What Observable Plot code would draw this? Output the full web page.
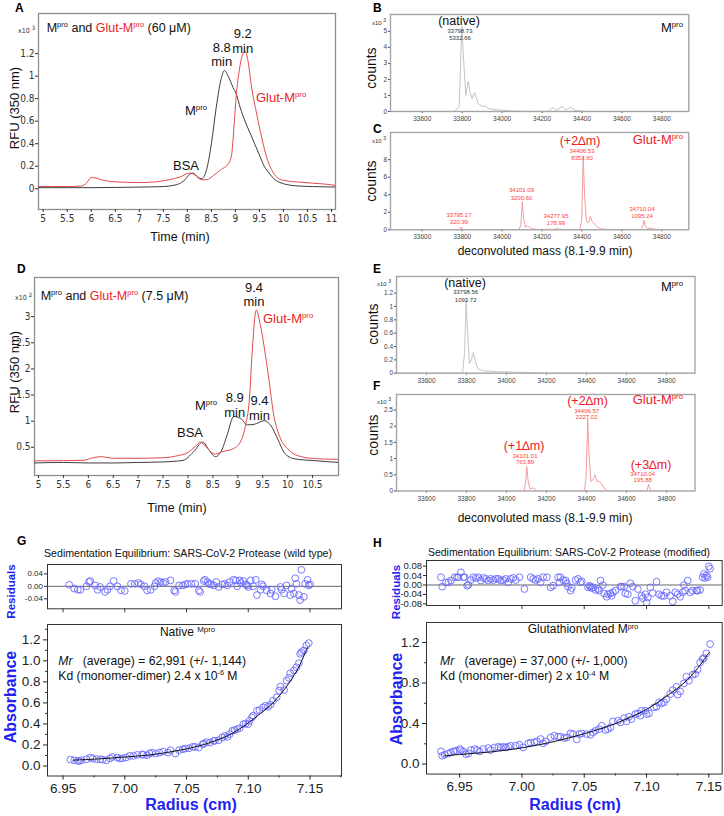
<!DOCTYPE html>
<html><head><meta charset="utf-8">
<script src="https://cdn.jsdelivr.net/npm/d3@7"></script>
<script src="https://cdn.jsdelivr.net/npm/@observablehq/plot@0.6"></script>
<style>
body{margin:0;background:#fff;}
#fig{position:relative;width:724px;height:816px;overflow:hidden;background:#fff;}
</style></head><body><div id="fig"></div>
<script>
// ---------- Panel A: SEC chromatogram, 60 µM ----------
const aRedT = [4.88,5.5,5.8,5.9,6.0,6.1,6.25,6.5,7.0,7.3,7.6,7.85,8.05,8.15,8.3,8.4,8.55,8.7,8.85,8.92,8.97,9.02,9.08,9.14,9.2,9.26,9.33,9.45,9.55,9.65,9.75,9.87,10.0,10.3,10.6,10.9,11.08];
const aRedV = [0.02,0.02,0.025,0.05,0.1,0.095,0.075,0.062,0.055,0.06,0.078,0.105,0.14,0.125,0.08,0.08,0.12,0.17,0.22,0.3,0.55,0.84,1.05,1.18,1.22,1.14,0.92,0.65,0.45,0.28,0.17,0.1,0.075,0.06,0.05,0.04,0.03];
const aBlkT = [4.88,5.5,6.0,6.5,7.0,7.5,7.8,7.95,8.05,8.12,8.22,8.3,8.4,8.5,8.6,8.7,8.77,8.85,8.95,9.02,9.1,9.2,9.3,9.4,9.5,9.6,9.7,9.8,10.0,10.3,10.6,11.08];
const aBlkV = [0.01,0.01,0.01,0.012,0.015,0.02,0.04,0.08,0.13,0.14,0.1,0.09,0.17,0.4,0.72,0.97,1.05,1.0,0.9,0.84,0.72,0.6,0.5,0.4,0.3,0.2,0.14,0.09,0.045,0.025,0.02,0.015];
const aXTicks = [5,5.5,6,6.5,7,7.5,8,8.5,9,9.5,10,10.5,11];
const aYTicks = [0,0.2,0.4,0.6,0.8,1,1.2];

// ---------- Panel D: SEC chromatogram, 7.5 µM ----------
const dRedT = [4.92,5.5,5.9,6.1,6.25,6.5,7.0,7.5,7.8,8.0,8.15,8.25,8.35,8.45,8.55,8.7,8.9,9.05,9.15,9.23,9.3,9.37,9.45,9.59,9.73,9.86,10.0,10.2,10.6,11.02];
const dRedV = [0.24,0.245,0.25,0.3,0.32,0.29,0.29,0.3,0.34,0.4,0.52,0.6,0.52,0.42,0.37,0.42,0.47,0.6,0.9,1.4,2.5,3.13,2.85,2.03,1.07,0.66,0.47,0.34,0.28,0.27];
const dBlkT = [4.92,5.5,6.0,6.5,7.0,7.5,7.9,8.1,8.3,8.42,8.55,8.68,8.79,8.92,9.06,9.19,9.33,9.53,9.66,9.8,9.93,10.13,10.53,11.02];
const dBlkV = [0.2,0.21,0.2,0.2,0.21,0.22,0.25,0.4,0.6,0.45,0.32,0.45,0.75,1.09,1.05,0.93,0.94,1.01,0.92,0.66,0.4,0.28,0.245,0.21];
const dXTicks = [5,5.5,6,6.5,7,7.5,8,8.5,9,9.5,10,10.5];
const dYTicks = [0.5,1,1.5,2,2.5,3];

// ---------- Deconvoluted mass spectra (counts x10^3) ----------
const bM = [33441,33760,33785,33798,33806,33818,33830,33840,33850,33862,33880,33900,33915,33930,33960,34000,34050,34150,34230,34255,34270,34300,34320,34342,34365,34420,34935];
const bC = [0,0,0.3,5.33,3.5,1.0,1.9,1.2,0.8,1.2,0.5,0.3,0.35,0.2,0.12,0.08,0.03,0,0.02,0.25,0.05,0.3,0.08,0.28,0.08,0,0];
const cM = [33441,33780,33788,33795,33802,33810,34085,34094,34101,34108,34118,34128,34138,34150,34180,34260,34272,34278,34285,34300,34390,34399,34406,34413,34422,34432,34442,34452,34465,34478,34495,34530,34695,34704,34710,34717,34728,34742,34760,34800,34935];
const cC = [0,0,0.1,0.32,0.1,0,0,0.6,3.2,1.2,0.3,0.45,0.25,0.1,0.05,0.05,0.08,0.18,0.06,0.04,0.05,1.2,8.35,4.0,1.0,0.8,1.5,0.9,0.6,0.3,0.1,0.04,0.04,0.3,1.1,0.5,0.15,0.2,0.08,0.02,0];
const eM = [33450,33780,33790,33798,33806,33814,33824,33834,33844,33856,33870,33890,33920,33950,33990,34050,34120,34200,34942];
const eC = [0,0,0.3,1.09,0.6,0.14,0.2,0.31,0.18,0.07,0.05,0.03,0.03,0.02,0.02,0.015,0.01,0,0];
const fM = [33450,34088,34095,34101,34108,34118,34130,34140,34155,34390,34398,34406,34413,34422,34432,34442,34452,34462,34472,34490,34510,34700,34706,34710,34716,34725,34942];
const fC = [0,0,0.25,0.76,0.3,0.05,0.1,0.07,0,0,0.5,2.23,1.0,0.3,0.35,0.5,0.3,0.3,0.25,0.06,0,0,0.1,0.2,0.08,0,0];
const massTicks = [33600,33800,34000,34200,34400,34600,34800];
const bYTicks = [0,1,2,3,4,5];
const cYTicks = [0,2,4,6,8];
const eYTicks = [0,0.2,0.4,0.6,0.8,1,1.2];
const fYTicks = [0,0.5,1,1.5,2,2.5];

// ---------- G: sedimentation equilibrium, native ----------
const gR = [6.956,6.959,6.962,6.963,6.965,6.969,6.972,6.974,6.977,6.980,6.982,6.985,6.988,6.990,6.994,6.996,6.998,7.001,7.004,7.007,7.010,7.014,7.015,7.018,7.020,7.022,7.025,7.028,7.031,7.035,7.037,7.041,7.044,7.047,7.049,7.052,7.055,7.057,7.060,7.063,7.064,7.066,7.069,7.072,7.073,7.076,7.079,7.081,7.083,7.085,7.087,7.089,7.091,7.093,7.096,7.098,7.100,7.101,7.103,7.104,7.107,7.109,7.112,7.114,7.116,7.118,7.120,7.123,7.125,7.126,7.129,7.131,7.133,7.134,7.137,7.139,7.141,7.142,7.143,7.145,7.147,7.149];
const gA = [0.060,0.054,0.048,0.048,0.054,0.064,0.080,0.070,0.064,0.064,0.060,0.054,0.073,0.086,0.080,0.070,0.073,0.080,0.096,0.096,0.105,0.111,0.105,0.102,0.118,0.127,0.118,0.127,0.137,0.127,0.150,0.118,0.150,0.159,0.166,0.169,0.182,0.182,0.175,0.207,0.213,0.226,0.223,0.239,0.239,0.245,0.271,0.287,0.277,0.303,0.334,0.341,0.350,0.360,0.398,0.404,0.398,0.430,0.462,0.478,0.525,0.532,0.557,0.573,0.564,0.583,0.621,0.653,0.717,0.755,0.723,0.812,0.838,0.882,0.908,0.939,0.978,1.067,1.083,1.099,1.146,1.169];
const gFitR = [6.958,6.98,7.0,7.02,7.04,7.06,7.08,7.09,7.1,7.11,7.12,7.13,7.14,7.148];
const gFitA = [0.055,0.068,0.085,0.105,0.14,0.19,0.27,0.33,0.41,0.5,0.6,0.74,0.92,1.13];
const grR = [6.955,6.959,6.962,6.964,6.969,6.971,6.972,6.976,6.978,6.980,6.984,6.986,6.988,6.991,6.994,6.997,7.000,7.005,7.008,7.011,7.013,7.016,7.018,7.021,7.024,7.025,7.027,7.029,7.031,7.033,7.037,7.040,7.041,7.044,7.047,7.049,7.051,7.054,7.057,7.060,7.061,7.064,7.065,7.067,7.068,7.070,7.072,7.074,7.076,7.079,7.081,7.083,7.085,7.088,7.090,7.091,7.093,7.094,7.096,7.098,7.099,7.100,7.102,7.104,7.106,7.107,7.110,7.111,7.112,7.115,7.118,7.119,7.122,7.126,7.127,7.129,7.131,7.134,7.135,7.137,7.138,7.139,7.141,7.142,7.143,7.145,7.146,7.148,7.149,7.150];
const grV = [0.005,-0.007,-0.011,-0.011,0,0.014,0.017,0.003,-0.011,-0.002,-0.018,-0.011,0,0.017,0,-0.013,-0.015,0.008,0.008,0.011,0.006,0,-0.013,-0.011,0,0.011,0.017,0.014,0.011,0.014,0.019,-0.013,-0.018,0.003,0.003,0.006,0.008,0.008,0.008,-0.013,-0.018,0.017,0.021,0.014,0.008,0.006,0.003,0.014,-0.002,0.006,0.008,0.003,0.014,0.021,0.019,0,0.019,0.011,0.017,0.006,0.003,-0.002,0.019,0,0.021,-0.028,-0.011,0.006,0,-0.013,-0.023,-0.011,-0.032,-0.002,-0.011,-0.023,0.003,-0.028,-0.007,-0.023,0.026,0.008,-0.028,-0.044,0.053,-0.034,0.008,0.021,0.003,0.006];

// ---------- H: sedimentation equilibrium, glutathionylated ----------
const hR = [6.935,6.936,6.938,6.941,6.943,6.945,6.947,6.950,6.951,6.953,6.955,6.957,6.959,6.962,6.964,6.966,6.969,6.973,6.975,6.978,6.981,6.983,6.985,6.987,6.989,6.991,6.995,6.998,7.001,7.005,7.007,7.010,7.012,7.015,7.017,7.019,7.023,7.026,7.029,7.031,7.034,7.036,7.039,7.041,7.044,7.046,7.048,7.052,7.055,7.057,7.059,7.062,7.064,7.067,7.069,7.071,7.073,7.077,7.079,7.082,7.084,7.086,7.088,7.091,7.093,7.095,7.096,7.099,7.100,7.102,7.106,7.108,7.110,7.112,7.114,7.116,7.119,7.121,7.124,7.125,7.127,7.130,7.132,7.134,7.137,7.139,7.141,7.143,7.145,7.146,7.148,7.151];
const hA = [0.125,0.082,0.092,0.105,0.115,0.125,0.132,0.148,0.138,0.125,0.099,0.105,0.138,0.148,0.138,0.125,0.148,0.158,0.138,0.164,0.171,0.164,0.171,0.164,0.171,0.181,0.181,0.191,0.164,0.204,0.211,0.214,0.224,0.247,0.204,0.224,0.263,0.280,0.270,0.270,0.257,0.263,0.303,0.296,0.243,0.296,0.303,0.296,0.289,0.313,0.329,0.345,0.378,0.336,0.345,0.362,0.421,0.428,0.411,0.454,0.421,0.467,0.444,0.493,0.500,0.477,0.526,0.526,0.493,0.500,0.559,0.566,0.609,0.599,0.609,0.641,0.691,0.730,0.763,0.684,0.717,0.796,0.862,0.822,0.882,0.888,0.934,1.003,1.036,1.046,1.092,1.184];
const hFitR = [6.937,6.95,6.975,7.0,7.025,7.05,7.075,7.1,7.115,7.13,7.14,7.15];
const hFitA = [0.08,0.095,0.12,0.16,0.22,0.3,0.4,0.54,0.66,0.8,0.93,1.1];
const hrR = [6.935,6.936,6.939,6.941,6.943,6.946,6.948,6.949,6.951,6.953,6.954,6.956,6.957,6.959,6.961,6.963,6.965,6.967,6.969,6.971,6.973,6.975,6.977,6.979,6.981,6.983,6.985,6.987,6.989,6.991,6.993,6.995,6.998,7.002,7.007,7.009,7.011,7.013,7.015,7.017,7.020,7.023,7.025,7.029,7.030,7.031,7.033,7.035,7.036,7.037,7.039,7.040,7.043,7.045,7.047,7.048,7.053,7.054,7.055,7.056,7.057,7.059,7.061,7.062,7.063,7.065,7.066,7.068,7.069,7.071,7.072,7.073,7.075,7.079,7.080,7.082,7.083,7.085,7.087,7.089,7.091,7.093,7.096,7.097,7.099,7.100,7.101,7.103,7.105,7.108,7.110,7.112,7.114,7.116,7.119,7.121,7.123,7.125,7.127,7.129,7.130,7.131,7.133,7.135,7.137,7.140,7.141,7.143,7.145,7.146,7.147,7.148,7.149,7.150,7.151];
const hrV = [0.033,-0.007,0.011,0.011,0.019,0.033,0.033,0.033,0.054,0.033,0.033,-0.003,0.001,0.021,0.033,0.03,0.033,0.019,0.03,0.026,0.019,0.026,0.021,0.026,0.026,0.019,0.021,0.026,0.011,0.026,0.03,0.021,0.033,-0.017,0.033,0.026,0.021,0.026,0.011,0.033,0.033,-0.01,-0.003,0.033,0.011,0.033,0.021,0.019,0.007,-0.007,-0.024,-0.013,0.021,0.026,0.011,0.016,-0.01,-0.003,-0.007,-0.013,-0.01,-0.021,-0.017,-0.024,0.019,0,-0.036,-0.05,-0.039,-0.036,-0.046,-0.031,-0.024,-0.007,-0.007,-0.007,-0.036,-0.039,0.007,-0.007,-0.067,-0.017,-0.046,-0.056,-0.039,-0.074,-0.053,-0.01,-0.034,0.014,-0.039,-0.046,-0.046,-0.031,-0.046,-0.07,-0.031,-0.039,-0.05,-0.031,0,-0.024,0.019,-0.031,-0.024,-0.024,-0.024,-0.021,0.033,0.047,0.03,0.04,0.033,0.079,0.069];
const radTicks = [6.95,7.0,7.05,7.1,7.15];
const radMinor = [6.975,7.025,7.075,7.125,7.175];
const gYTicks = [0,0.2,0.4,0.6,0.8,1.0,1.2];
const gYMinor = [0.1,0.3,0.5,0.7,0.9,1.1,1.3];
const hYTicks = [0,0.4,0.8,1.2];
const hYMinor = [0.2,0.6,1.0];
const grTicks = [-0.04,0,0.04];
const hrTicks = [-0.08,-0.04,0,0.04,0.08];

// ---------- styling ----------
const SANS = "'Liberation Sans', Arial, Helvetica, sans-serif";
const NARROW = "'Liberation Sans Narrow','Arial Narrow','DejaVu Sans Condensed','Liberation Sans',sans-serif";
const RED = "#ec1c24", RED2 = "#ff3b3b", BLUE = "#2323f0", DOT = "#6a6aff";
const LRED = "#e14b4b", LBLK = "#3d3d3d", GRAYSPEC = "#c4c4c4", PINKSPEC = "#f59c9c";
const fig = document.getElementById("fig");

function panel(frame, xd, yd, marks) {
  const [x0, y0, x1, y1] = frame, m = 40;
  const svg = Plot.plot({
    width: (x1 - x0) + 2 * m, height: (y1 - y0) + 2 * m,
    marginLeft: m, marginRight: m, marginTop: m, marginBottom: m,
    x: {domain: xd}, y: {domain: yd},
    style: {background: "transparent", overflow: "visible", fontFamily: SANS, color: "#222"},
    marks
  });
  svg.style.position = "absolute";
  svg.style.left = (x0 - m) + "px";
  svg.style.top = (y0 - m) + "px";
  svg.style.maxWidth = "none";
  fig.appendChild(svg);
  return svg;
}
const fmtStr = d => String(d);
const fmt1 = d => d.toFixed(1);
const fmt2 = d => d.toFixed(2);
const blank = () => "";
const line = (xs, ys, stroke, w = 1, curve = "monotone-x") =>
  Plot.line(xs, {x: xs, y: ys, stroke, strokeWidth: w, curve, clip: true});

// ---- chromatograms ----
function chrom(frame, xd, yd, xt, yt, series) {
  return panel(frame, xd, yd, [
    Plot.frame({stroke: "#8e8e8e", strokeWidth: 1.3}),
    Plot.axisX({ticks: xt, tickSize: 3, tickPadding: 2, fontSize: 10, fontFamily: NARROW, tickFormat: fmtStr, label: null, color: "#333"}),
    Plot.axisY({ticks: yt, tickSize: 3, tickPadding: 1, fontSize: 10, fontFamily: NARROW, tickFormat: fmtStr, label: null, color: "#333"}),
    ...series
  ]);
}
chrom([38, 13, 335, 209], [4.902, 11.083], [-0.184, 1.556], aXTicks, aYTicks, [
  line(aBlkT, aBlkV, LBLK), line(aRedT, aRedV, LRED)
]);
chrom([34, 277, 338, 475], [4.92, 11.02], [-0.04, 3.75], dXTicks, dYTicks, [
  line(dBlkT, dBlkV, LBLK), line(dRedT, dRedV, LRED)
]);

// ---- spectra ----
function spec(frame, xd, yd, yt, xs, ys, color) {
  return panel(frame, xd, yd, [
    Plot.axisX({ticks: massTicks, tickSize: 2, tickPadding: 3, fontSize: 6.5, tickFormat: fmtStr, label: null, color: "#444"}),
    Plot.axisY({ticks: yt, tickSize: 2, tickPadding: 1.5, fontSize: 6.5, tickFormat: fmtStr, label: null, color: "#444"}),
    line(xs, ys, color, 1, "linear"),
    Plot.frame({stroke: "#a5a5a5", strokeWidth: 1.4})
  ]);
}
spec([390, 14, 688.3, 111], [33441, 34935], [0, 6.05], bYTicks, bM, bC, GRAYSPEC);
spec([390, 131.7, 688.3, 229], [33441, 34935], [0, 11.1], cYTicks, cM, cC, PINKSPEC);
spec([396, 276, 694.5, 372.7], [33450, 34942], [0, 1.45], eYTicks, eM, eC, GRAYSPEC);
spec([396, 394, 694.5, 490.5], [33450, 34942], [0, 2.98], fYTicks, fM, fC, PINKSPEC);

// ---- sedimentation equilibrium ----
function resid(frame, xd, yd, yt, xs, ys, fs) {
  return panel(frame, xd, yd, [
    Plot.frame({stroke: "#333", strokeWidth: 1}),
    Plot.axisX({ticks: radTicks, tickSize: 4, tickFormat: blank, label: null, color: "#333"}),
    Plot.axisY({ticks: yt, tickSize: 3, tickPadding: 1.5, fontSize: fs, tickFormat: fmt2, label: null, color: "#222"}),
    Plot.ruleY([0], {stroke: "#555", strokeWidth: 0.9}),
    Plot.dot(xs, {x: xs, y: ys, r: 3.4, stroke: DOT, strokeWidth: 0.9, fill: "none", clip: true})
  ]);
}
function absorb(frame, xd, yd, yt, ym, xs, ys, fr, fa) {
  return panel(frame, xd, yd, [
    Plot.frame({stroke: "#333", strokeWidth: 1}),
    Plot.axisX({ticks: radTicks, tickSize: 4, tickPadding: 3, fontSize: 13.5, tickFormat: fmt2, label: null, color: "#222"}),
    Plot.axisX({ticks: radMinor.filter(v => v < xd[1]), tickSize: 2, tickFormat: blank, label: null, color: "#333"}),
    Plot.axisY({ticks: yt, tickSize: 4, tickPadding: 3, fontSize: 13.5, tickFormat: fmt1, label: null, color: "#222"}),
    Plot.axisY({ticks: ym, tickSize: 2, tickFormat: blank, label: null, color: "#333"}),
    Plot.dot(xs, {x: xs, y: ys, r: 3.4, stroke: DOT, strokeWidth: 0.9, fill: "none", clip: true}),
    line(fr, fa, "#111", 1, "catmull-rom")
  ]);
}
resid([47, 564, 341, 608.3], [6.9374, 7.1755], [-0.072, 0.070], grTicks, grR, grV, 8);
absorb([47, 624, 341, 775.5], [6.9374, 7.1755], [-0.0955, 1.346], gYTicks, gYMinor, gR, gA, gFitR, gFitA);
resid([426, 560, 721.7, 605], [6.9234, 7.1607], [-0.087, 0.104], hrTicks, hrR, hrV, 9.5);
absorb([426, 621.7, 721.7, 773.3], [6.9234, 7.1607], [-0.0986, 1.397], hYTicks, hYMinor, hR, hA, hFitR, hFitA);

// ---------- text overlay ----------
const ov = d3.select(fig).append("svg").attr("width", 724).attr("height", 816)
  .style("position", "absolute").style("left", "0px").style("top", "0px").style("pointer-events", "none");
function txt(x, y, parts, o = {}) {
  const size = o.size || 12;
  const t = ov.append("text").attr("x", x).attr("y", y)
    .attr("font-size", size).attr("font-family", o.font || SANS)
    .attr("text-anchor", o.anchor || "start").attr("fill", o.fill || "#111")
    .style("white-space", "pre");
  if (o.weight) t.attr("font-weight", o.weight);
  if (o.rotate) t.attr("transform", `rotate(-90 ${x} ${y})`);
  if (o.len) t.attr("textLength", o.len).attr("lengthAdjust", "spacingAndGlyphs");
  let shift = 0;
  for (const p of [].concat(parts)) {
    const q = typeof p === "string" ? {t: p} : p;
    const ts = t.append("tspan").text(q.t);
    const target = q.sup ? -size * (q.rise || 0.36) : 0;
    if (target !== shift) { ts.attr("dy", target - shift); shift = target; }
    if (q.sup) ts.attr("font-size", size * (q.scale || 0.6));
    if (q.fill) ts.attr("fill", q.fill);
    if (q.italic) ts.attr("font-style", "italic");
  }
  return t;
}
const Mp = (fill) => [{t: "M", fill}, {t: "pro", sup: true, fill}];
const GlutMp = [{t: "Glut-M", fill: RED}, {t: "pro", sup: true, fill: RED}];
const x10 = (x, y, e, size, font) => txt(x, y, ["x10 ", {t: e, sup: true, scale: 0.85, rise: 0.45}], {size, font, fill: "#333"});

// panel letters
[["A",15,12],["B",373,12],["C",373,133],["D",17,273],["E",373,273],["F",373,390],["G",17,545],["H",373,547]]
  .forEach(([l, x, y]) => txt(x, y, l, {size: 12, weight: "bold", fill: "#000"}));

// A
txt(46.7, 31.5, [...Mp(), " and ", ...GlutMp, " (60 μM)"], {size: 12.5});
x10(18, 33, "3", 7, NARROW);
txt(221.7, 51.5, "8.8", {size: 13, anchor: "middle"});
txt(221.7, 66, "min", {size: 13, anchor: "middle"});
txt(242.7, 38, "9.2", {size: 13, anchor: "middle"});
txt(242.7, 52.5, "min", {size: 13, anchor: "middle"});
txt(185, 114.5, Mp(), {size: 13});
txt(256, 101.5, GlutMp, {size: 13});
txt(173, 170, "BSA", {size: 13});
txt(18.5, 108, "RFU (350 nm)", {size: 13, anchor: "middle", rotate: true});
txt(180, 241, "Time (min)", {size: 12.5, anchor: "middle"});

// B
x10(372, 25, "3", 6);
txt(459, 24.5, "(native)", {size: 12.5, anchor: "middle"});
txt(460, 33, "33798.73", {size: 6, anchor: "middle", fill: "#333"});
txt(460, 40, "5332.66", {size: 6, anchor: "middle", fill: "#333"});
txt(683, 31.5, Mp(), {size: 13, anchor: "end"});
txt(376, 68, "counts", {size: 14, anchor: "middle", rotate: true});

// C
x10(372, 143, "3", 6);
txt(580, 145, "(+2∆m)", {size: 12.5, anchor: "middle", fill: RED});
txt(582, 153, "34406.53", {size: 6, anchor: "middle", fill: RED2});
txt(582, 160, "8353.60", {size: 6, anchor: "middle", fill: RED2});
txt(683, 143.5, GlutMp, {size: 13, anchor: "end"});
[["33795.17","320.99",459,217,224],["34101.09","3200.60",521.5,192,200],["34277.95","178.99",556,218,225],["34710.04","1095.24",642,210.5,218]]
  .forEach(([a, b, x, y1, y2]) => { txt(x, y1, a, {size: 6, anchor: "middle", fill: RED2}); txt(x, y2, b, {size: 6, anchor: "middle", fill: RED2}); });
txt(376, 181, "counts", {size: 14, anchor: "middle", rotate: true});
txt(545, 255, "deconvoluted mass (8.1-9.9 min)", {size: 12, anchor: "middle"});

// D
x10(15, 300, "2", 7, NARROW);
txt(40.7, 299.5, [...Mp(), " and ", ...GlutMp, " (7.5 μM)"], {size: 12.5});
txt(254, 291.5, "9.4", {size: 13, anchor: "middle"});
txt(254, 305.5, "min", {size: 13, anchor: "middle"});
txt(263, 323, GlutMp, {size: 13});
txt(195, 410, Mp(), {size: 13});
txt(234.7, 402, "8.9", {size: 13, anchor: "middle"});
txt(234.7, 416.5, "min", {size: 13, anchor: "middle"});
txt(259.5, 405, "9.4", {size: 13, anchor: "middle"});
txt(259.5, 420, "min", {size: 13, anchor: "middle"});
txt(177, 437, "BSA", {size: 13});
txt(18.5, 372, "RFU (350 nm)", {size: 13, anchor: "middle", rotate: true});
txt(177, 511.5, "Time (min)", {size: 12.5, anchor: "middle"});

// E
x10(377, 286, "3", 6);
txt(465, 286.5, "(native)", {size: 12.5, anchor: "middle"});
txt(465.7, 294, "33798.56", {size: 6, anchor: "middle", fill: "#333"});
txt(465.7, 302, "1093.72", {size: 6, anchor: "middle", fill: "#333"});
txt(683, 291, Mp(), {size: 13, anchor: "end"});
txt(378, 324, "counts", {size: 14, anchor: "middle", rotate: true});

// F
x10(377, 404, "3", 6);
txt(587.5, 405, "(+2∆m)", {size: 12.5, anchor: "middle", fill: RED});
txt(586.7, 412.5, "34406.57", {size: 6, anchor: "middle", fill: RED2});
txt(586.7, 419, "2227.02", {size: 6, anchor: "middle", fill: RED2});
txt(683, 404, GlutMp, {size: 13, anchor: "end"});
txt(524, 450, "(+1∆m)", {size: 12.5, anchor: "middle", fill: RED});
txt(525, 457.5, "34101.01", {size: 6, anchor: "middle", fill: RED2});
txt(525, 463.5, "763.89", {size: 6, anchor: "middle", fill: RED2});
txt(651, 469, "(+3∆m)", {size: 12.5, anchor: "middle", fill: RED});
txt(642.7, 475.5, "34710.04", {size: 6, anchor: "middle", fill: RED2});
txt(642.7, 481.5, "195.88", {size: 6, anchor: "middle", fill: RED2});
txt(378, 435, "counts", {size: 14, anchor: "middle", rotate: true});
txt(545, 522, "deconvoluted mass (8.1-9.9 min)", {size: 12, anchor: "middle"});

// G
txt(188, 556.5, "Sedimentation Equilibrium: SARS-CoV-2 Protease (wild type)", {size: 10.5, anchor: "middle", len: 288});
txt(15, 591.5, "Residuals", {size: 11.5, weight: "bold", fill: BLUE, anchor: "middle", rotate: true});
txt(187.5, 636, ["Native ", {t: "Mpro", sup: true, scale: 0.65}], {size: 12, anchor: "middle"});
txt(58.3, 665, [{t: "Mr", italic: true}, "   (average) = 62,991 (+/- 1,144)"], {size: 12.2});
txt(58.3, 679.5, ["Kd (monomer-dimer) 2.4 x 10", {t: "-6", sup: true}, " M"], {size: 12.2});
txt(15.5, 697, "Absorbance", {size: 16, weight: "bold", fill: BLUE, anchor: "middle", rotate: true});
txt(191, 810, "Radius (cm)", {size: 16, weight: "bold", fill: BLUE, anchor: "middle"});

// H
txt(569, 556, "Sedimentation Equilibrium: SARS-CoV-2 Protease (modified)", {size: 10.5, anchor: "middle", len: 282});
txt(400, 592, "Residuals", {size: 11.5, weight: "bold", fill: BLUE, anchor: "middle", rotate: true});
txt(583, 633, ["Glutathionvlated M", {t: "pro", sup: true}], {size: 12, anchor: "middle"});
txt(440, 665, [{t: "Mr", italic: true}, "   (average) = 37,000 (+/- 1,000)"], {size: 12.2});
txt(440, 680, ["Kd (monomer-dimer) 2 x 10", {t: "-4", sup: true}, " M"], {size: 12.2});
txt(402, 699, "Absorbance", {size: 16, weight: "bold", fill: BLUE, anchor: "middle", rotate: true});
txt(575, 810, "Radius (cm)", {size: 16, weight: "bold", fill: BLUE, anchor: "middle"});
</script></body></html>
